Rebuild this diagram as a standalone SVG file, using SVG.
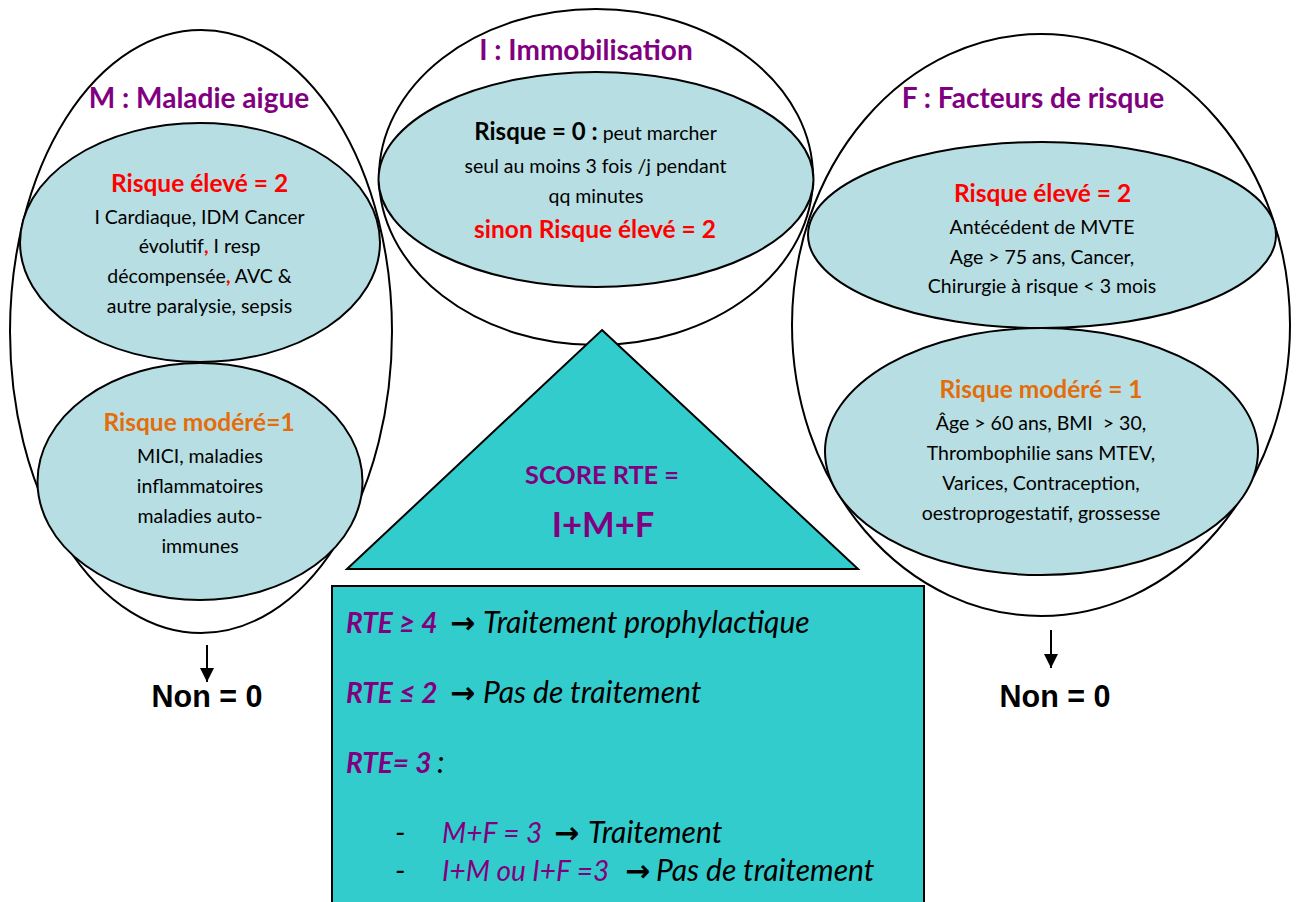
<svg xmlns="http://www.w3.org/2000/svg" width="1296" height="902" viewBox="0 0 1296 902">
<defs>
<style>
.outer{fill:none;stroke:#000;stroke-width:2}
.soft{fill:#B7DEE2;stroke:#000;stroke-width:2}
.turq{fill:#33CCCC;stroke:#000;stroke-width:2}
text{font-family:Lato,"Open Sans",sans-serif;text-anchor:middle}
.title{font-size:28px;font-weight:bold;fill:#800080}
.hi{font-size:24.5px;font-weight:bold;fill:#FF0000}
.mod{font-size:24.5px;font-weight:bold;fill:#E46C0A}
.body{font-size:19.5px;fill:#000}
.rc{fill:#FF0000;font-weight:bold}
.non{font-family:"Liberation Sans",Arial,sans-serif;font-size:30.5px;font-weight:bold;fill:#000}
.bx{font-size:30px;font-style:italic;text-anchor:start;fill:#000}
.pb{fill:#800080;font-weight:bold;font-size:28px}
.pr{fill:#800080;font-size:28px}
.arr{font-family:"DejaVu Sans",sans-serif;font-weight:bold;font-style:normal;font-size:30px}
</style>
<marker id="ah" markerWidth="14" markerHeight="14" refX="14" refY="7" orient="auto" markerUnits="userSpaceOnUse" viewBox="0 0 14 14">
<path d="M0,0 L14,7 L0,14 Z" fill="#000"/>
</marker>
</defs>
<rect x="0" y="0" width="1296" height="902" fill="#fff"/>

<g id="outer-ellipses">
<ellipse class="outer" cx="201" cy="331.5" rx="191" ry="301.5"/>
<ellipse class="outer" cx="596" cy="177" rx="217" ry="168"/>
<ellipse class="outer" cx="1041" cy="325" rx="249" ry="291"/>
</g>

<g id="node-M">
<text class="title" x="199" y="108">M : Maladie aigue</text>
</g>
<g id="node-M-high">
<ellipse class="soft" cx="200" cy="242.5" rx="180" ry="119.5"/>
<text class="hi" x="199.5" y="192">Risque élevé = 2</text>
<text class="body" x="199.5" y="224">I Cardiaque, IDM Cancer</text>
<text class="body" x="199.5" y="253">évolutif<tspan class="rc">,</tspan> I resp</text>
<text class="body" x="199.5" y="283">décompensée<tspan class="rc">,</tspan> AVC &amp;</text>
<text class="body" x="199.5" y="313">autre paralysie, sepsis</text>
</g>
<g id="node-M-mod">
<ellipse class="soft" cx="200" cy="481.5" rx="162.5" ry="118.5"/>
<text class="mod" x="199" y="431">Risque modéré=1</text>
<text class="body" x="200" y="463">MICI, maladies</text>
<text class="body" x="200" y="493">inflammatoires</text>
<text class="body" x="200" y="523">maladies auto-</text>
<text class="body" x="200" y="553">immunes</text>
</g>

<g id="node-I">
<text class="title" x="586" y="60">I : Immobilisation</text>
<ellipse class="soft" cx="596" cy="179.5" rx="217.5" ry="107.5"/>
<text class="body" x="595.5" y="140"><tspan font-weight="bold" font-size="24px">Risque = 0 :</tspan> peut marcher</text>
<text class="body" x="595.5" y="173">seul au moins 3 fois /j pendant</text>
<text class="body" x="596" y="203">qq minutes</text>
<text class="hi" x="595" y="238">sinon Risque élevé = 2</text>
</g>

<g id="node-F">
<text class="title" x="1033" y="108">F : Facteurs de risque</text>
</g>
<g id="node-F-high">
<ellipse class="soft" cx="1042" cy="235" rx="234" ry="93"/>
<text class="hi" x="1042.5" y="202">Risque élevé = 2</text>
<text class="body" x="1042" y="234">Antécédent de MVTE</text>
<text class="body" x="1042" y="264">Age &gt; 75 ans, Cancer,</text>
<text class="body" x="1042" y="293">Chirurgie à risque &lt; 3 mois</text>
</g>
<g id="node-F-mod">
<ellipse class="soft" cx="1041.5" cy="451.5" rx="216.5" ry="123.5"/>
<text class="mod" x="1041" y="398">Risque modéré = 1</text>
<text class="body" x="1041" y="430">Âge &gt; 60 ans, BMI&#160; &gt; 30,</text>
<text class="body" x="1041" y="460">Thrombophilie sans MTEV,</text>
<text class="body" x="1041" y="490">Varices, Contraception,</text>
<text class="body" x="1041" y="520">oestroprogestatif, grossesse</text>
</g>

<g id="node-score">
<polygon class="turq" points="602,330 858,569 347,569"/>
<text x="602" y="484" font-size="25.3px" font-weight="bold" fill="#800080">SCORE RTE =</text>
<text x="603" y="537" font-size="34.6px" font-weight="bold" fill="#800080">I+M+F</text>
</g>

<g id="node-rules">
<rect class="turq" x="332" y="586" width="592" height="330"/>
<text class="bx" y="633"><tspan class="pb" x="346">RTE ≥ 4</tspan><tspan class="arr" x="450">→</tspan><tspan x="483">Traitement prophylactique</tspan></text>
<text class="bx" y="703"><tspan class="pb" x="346">RTE ≤ 2</tspan><tspan class="arr" x="450">→</tspan><tspan x="483">Pas de traitement</tspan></text>
<text class="bx" y="773"><tspan class="pb" x="346">RTE= 3</tspan><tspan x="437">:</tspan></text>
<text class="bx" x="395" y="843">-</text>
<text class="bx" y="843"><tspan class="pr" x="442">M+F = 3</tspan><tspan class="arr" x="554">→</tspan><tspan x="588">Traitement</tspan></text>
<text class="bx" x="395" y="881">-</text>
<text class="bx" y="881"><tspan class="pr" x="442">I+M ou I+F =3</tspan><tspan class="arr" x="625">→</tspan><tspan x="656">Pas de traitement</tspan></text>
</g>

<g id="connectors">
<line x1="207" y1="645" x2="207" y2="682" stroke="#000" stroke-width="2" marker-end="url(#ah)"/>
<line x1="1051" y1="630" x2="1051" y2="668" stroke="#000" stroke-width="2" marker-end="url(#ah)"/>
</g>

<g id="node-non-left">
<text class="non" x="207" y="707">Non = 0</text>
</g>
<g id="node-non-right">
<text class="non" x="1055" y="707">Non = 0</text>
</g>
</svg>
